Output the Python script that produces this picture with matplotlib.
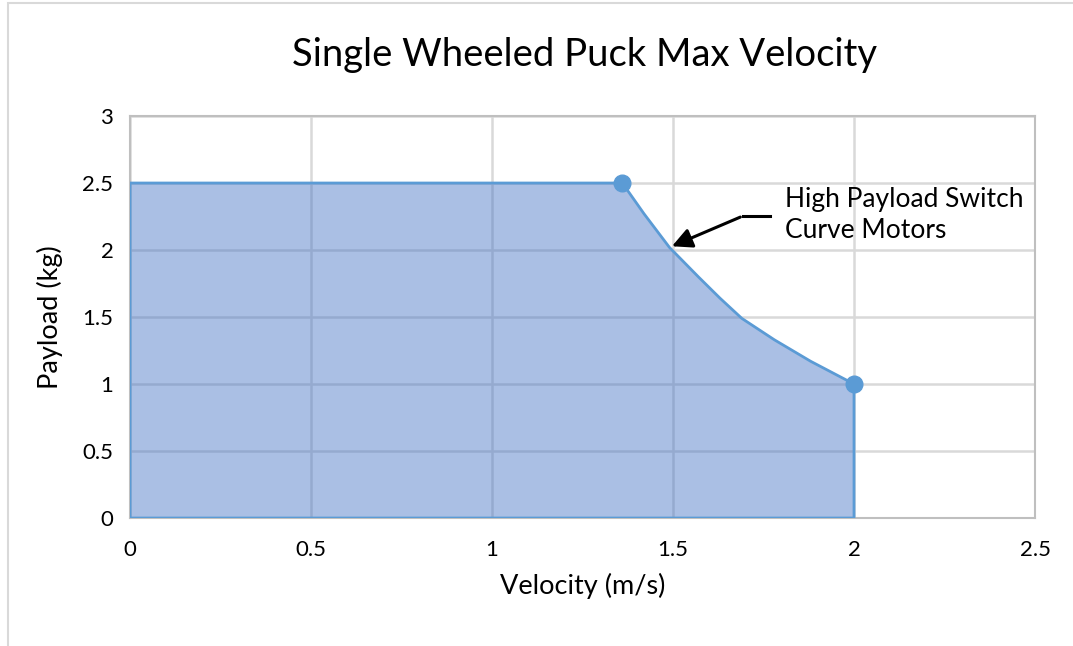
import matplotlib.pyplot as plt
from matplotlib.patches import Rectangle

# boundary of the operating region
velocity = [0, 0, 1.36, 1.42, 1.49, 1.57, 1.63, 1.69, 1.78, 1.88, 2.0, 2.0]
payload = [0, 2.5, 2.5, 2.27, 2.02, 1.80, 1.64, 1.49, 1.33, 1.17, 1.0, 0]

marker_v = [1.36, 2.0]
marker_p = [2.5, 1.0]

x_ticks = [0, 0.5, 1, 1.5, 2, 2.5]
x_labels = ['0', '0.5', '1', '1.5', '2', '2.5']
y_ticks = [0, 0.5, 1, 1.5, 2, 2.5, 3]
y_labels = ['0', '0.5', '1', '1.5', '2', '2.5', '3']

plt.rcParams['font.family'] = ['Lato', 'DejaVu Sans']

fig = plt.figure(figsize=(10.73, 6.46), dpi=100)
ax = fig.add_axes([0.1212, 0.1981, 0.8434, 0.6223])

fig.patches.append(Rectangle((0.007, -0.01), 1.0, 1.005, transform=fig.transFigure,
                             fill=False, edgecolor='#D9D9D9', linewidth=1.5))

ax.fill(velocity, payload, facecolor='#4472C4', alpha=0.45, edgecolor='none', zorder=2)
ax.fill(velocity, payload, facecolor='none', edgecolor='#5B9BD5', linewidth=2,
        joinstyle='round', zorder=3)
ax.plot(marker_v, marker_p, 'o', color='#5B9BD5', markersize=12, zorder=4)

ax.set_xlim(0, 2.5)
ax.set_ylim(0, 3)
ax.set_xticks(x_ticks)
ax.set_xticklabels(x_labels)
ax.set_yticks(y_ticks)
ax.set_yticklabels(y_labels)
ax.tick_params(length=0, labelsize=16)
ax.tick_params(axis='x', pad=16)
ax.tick_params(axis='y', pad=12)
ax.grid(True, color='#D9D9D9', linewidth=1.8, zorder=0)
ax.set_axisbelow(True)
for s in ax.spines.values():
    s.set_color('#BFBFBF')
    s.set_linewidth(1.5)

fig.text(0.5445, 1 - 55 / 646, 'Single Wheeled Puck Max Velocity', fontsize=27.5,
         ha='center', va='center')
ax.set_xlabel('Velocity (m/s)', fontsize=19.5, labelpad=9)
ax.set_ylabel('Payload (kg)', fontsize=19.5, labelpad=14)

ax.plot([1.768, 1.693], [2.254, 2.254], color='black', linewidth=2.2, zorder=5)
ax.annotate('', xy=(1.49, 2.02), xytext=(1.693, 2.254),
            arrowprops=dict(arrowstyle='-|>', color='black', lw=2.2, mutation_scale=30), zorder=5)
ax.text(1.81, 2.26, 'High Payload Switch\nCurve Motors', fontsize=19, va='center', ha='left',
        linespacing=1.3, zorder=5)

fig.savefig('out.png', dpi=100)
